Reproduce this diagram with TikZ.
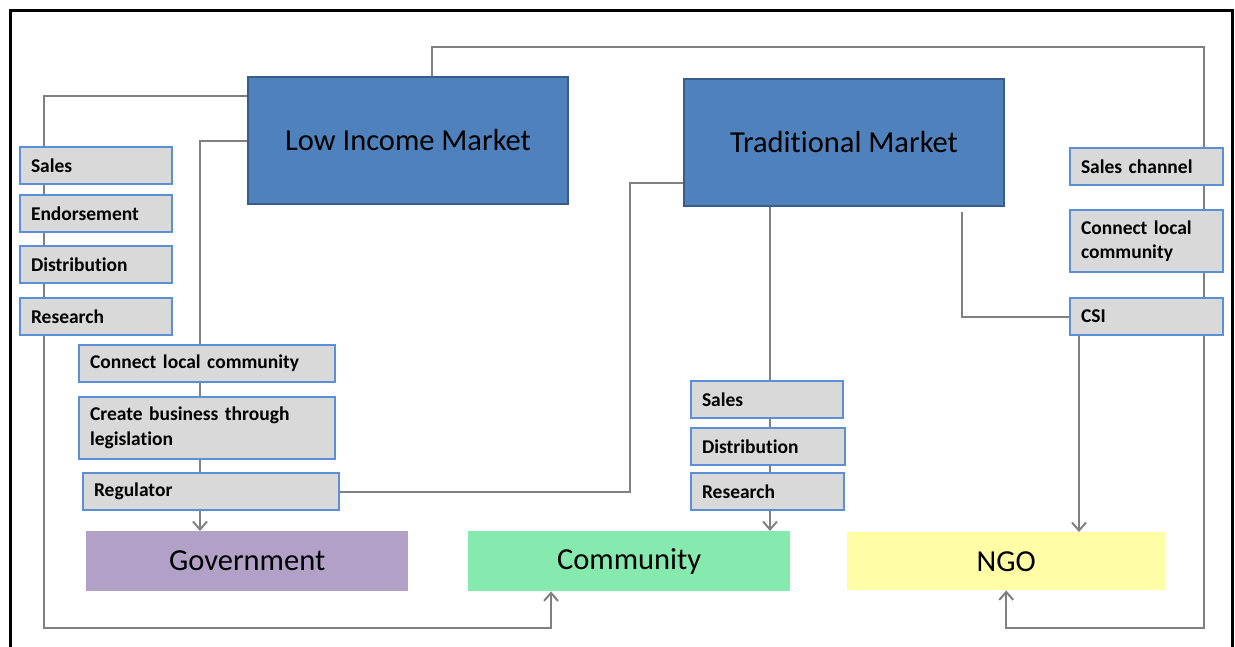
\documentclass[tikz,border=0pt]{standalone}
\usepackage{fontspec}
\setmainfont{Carlito}[Ligatures=NoCommon]
\usetikzlibrary{arrows.meta,backgrounds,calc}

\definecolor{mktfill}{HTML}{4F81BD}
\definecolor{mktline}{HTML}{385D8A}
\definecolor{tagfill}{HTML}{D9D9D9}
\definecolor{tagline}{HTML}{5B8FD8}
\definecolor{govfill}{HTML}{B2A1C7}
\definecolor{comfill}{HTML}{86E9AE}
\definecolor{ngofill}{HTML}{FFFDA6}
\definecolor{linkgray}{HTML}{808080}

\tikzset{
  market/.style={draw=mktline, fill=mktfill, line width=2pt, anchor=north west,
    minimum width=320pt, minimum height=127pt, inner sep=0pt, font=\fontsize{30.5}{36}\selectfont},
  actor/.style={anchor=north west, minimum width=322pt, minimum height=60pt,
    inner sep=0pt, font=\fontsize{30.5}{36}\selectfont},
  tag/.style={draw=tagline, fill=tagfill, line width=2pt, anchor=north west,
    inner xsep=11pt, inner ysep=0pt, minimum height=37pt, align=left,
    font=\bfseries\fontsize{19.5}{24.5}\selectfont},
  link/.style={draw=linkgray, line width=2pt},
  tip/.style={-{Straight Barb[length=8pt,width=14pt]}}
}

\begin{document}
\begin{tikzpicture}[x=1pt,y=-1pt]
\useasboundingbox (0,0) rectangle (1235,646);

% main market boxes
\node[market] (lim) at (247,76) {Low Income Market};
\node[market] (tm) at (683,78) {Traditional Market};

% stakeholders
\node[actor, fill=govfill] (gov) at (86,531) {Government};
\node[actor, fill=comfill] (comm) at (468,531) {Community};
\node[actor, fill=ngofill, minimum width=318pt, minimum height=58pt] (ngo) at (847,532) {NGO};

% low income market: path to community
\node[tag, text width=130pt] (s1) at (19,146) {Sales};
\node[tag, text width=130pt] (e1) at (19,194) {Endorsement};
\node[tag, text width=130pt] (d1) at (19,245) {Distribution};
\node[tag, text width=130pt] (r1) at (19,297) {Research};

% low income market: path to government
\node[tag, text width=234pt] (clc1) at (78,344) {Connect local community};
\node[tag, text width=234pt, minimum height=62pt] (cbl) at (78,396) {Create business through\\legislation};
\node[tag, text width=234pt] (reg) at (82,472) {Regulator};

% traditional market: path to community
\node[tag, text width=130pt] (s2) at (690,380) {Sales};
\node[tag, text width=132pt] (d2) at (690,427) {Distribution};
\node[tag, text width=131pt] (r2) at (690,472) {Research};

% traditional market: path to NGO
\node[tag, text width=131pt] (sc) at (1069,147) {Sales channel};
\node[tag, text width=131pt, minimum height=62pt] (clc2) at (1069,209) {Connect local\\community};
\node[tag, text width=131pt] (csi) at (1069,297) {CSI};

\begin{scope}[on background layer]
  % outer frame
  \draw[line width=3pt] (10,650) -- (10,10) -- (1232,10) -- (1232,650);

  % low income market -> NGO (around the top)
  \coordinate (topR) at (1204,47);
  \coordinate (botR) at (1204,628);
  \draw[link, tip] ([xshift=185pt]lim.north west) |- (topR) -- (botR) -| (ngo.south);

  % low income market -> community (down the left side)
  \coordinate (botL) at (44,628);
  \draw[link, tip] ([yshift=-20pt]lim.north west) -| (botL) -| ([xshift=83pt]comm.south west);

  % low income market -> government
  \draw[link, tip] (lim.west) -| ([xshift=114pt]gov.north west);

  % regulator -> traditional market
  \draw[link] (reg.east) -| ([xshift=-53pt,yshift=-105pt]tm.north west) -- ([yshift=-105pt]tm.north west);

  % traditional market -> community
  \draw[link, tip] ([xshift=87pt]tm.south west) -- ([xshift=87pt]tm.south west |- comm.north);

  % traditional market -> CSI -> NGO
  \draw[link] ([xshift=279pt,yshift=-5pt]tm.south west) |- (csi.west);
  \draw[link, tip] ([xshift=10pt]csi.south west) -- ([xshift=10pt]csi.south west |- ngo.north);
\end{scope}
\end{tikzpicture}
\end{document}
